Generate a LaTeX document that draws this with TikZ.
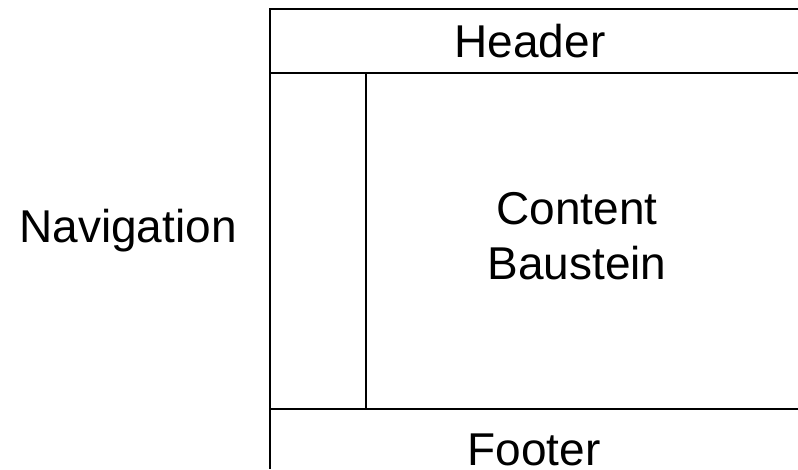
\documentclass[tikz,border=0pt]{standalone}
\usepackage{fontspec}
\setmainfont{Liberation Sans}
\begin{document}
\begin{tikzpicture}[x=1pt,y=-1pt,
  frame/.style={line width=2pt,black},
  label/.style={font=\fontsize{46}{55}\selectfont,inner sep=0pt,text=black}]
\useasboundingbox (0,0) rectangle (798,469);
% frame coordinates
\coordinate (tl) at (270,9);
\coordinate (tr) at (798,9);
\coordinate (hl) at (270,72.7);
\coordinate (hr) at (798,72.7);
\coordinate (vt) at (366,72.7);
\coordinate (vb) at (366,409);
\coordinate (fl) at (270,409);
\coordinate (fr) at (798,409);
\coordinate (bl) at (270,469);
\draw[frame] (tr) -- (tl) -- (bl);
\draw[frame] (hl) -- (hr);
\draw[frame] (fl) -- (fr);
\draw[frame] (vt) -- (vb);
% labels
\node[label,anchor=base] (header) at (530,57.5) {Header};
\node[label,anchor=base] (nav) at (128,242) {Navigation};
\node[label,align=center] (content) at (577,236.5) {Content\\Baustein};
\node[label,anchor=base] (footer) at (534,465) {Footer};
\end{tikzpicture}
\end{document}
